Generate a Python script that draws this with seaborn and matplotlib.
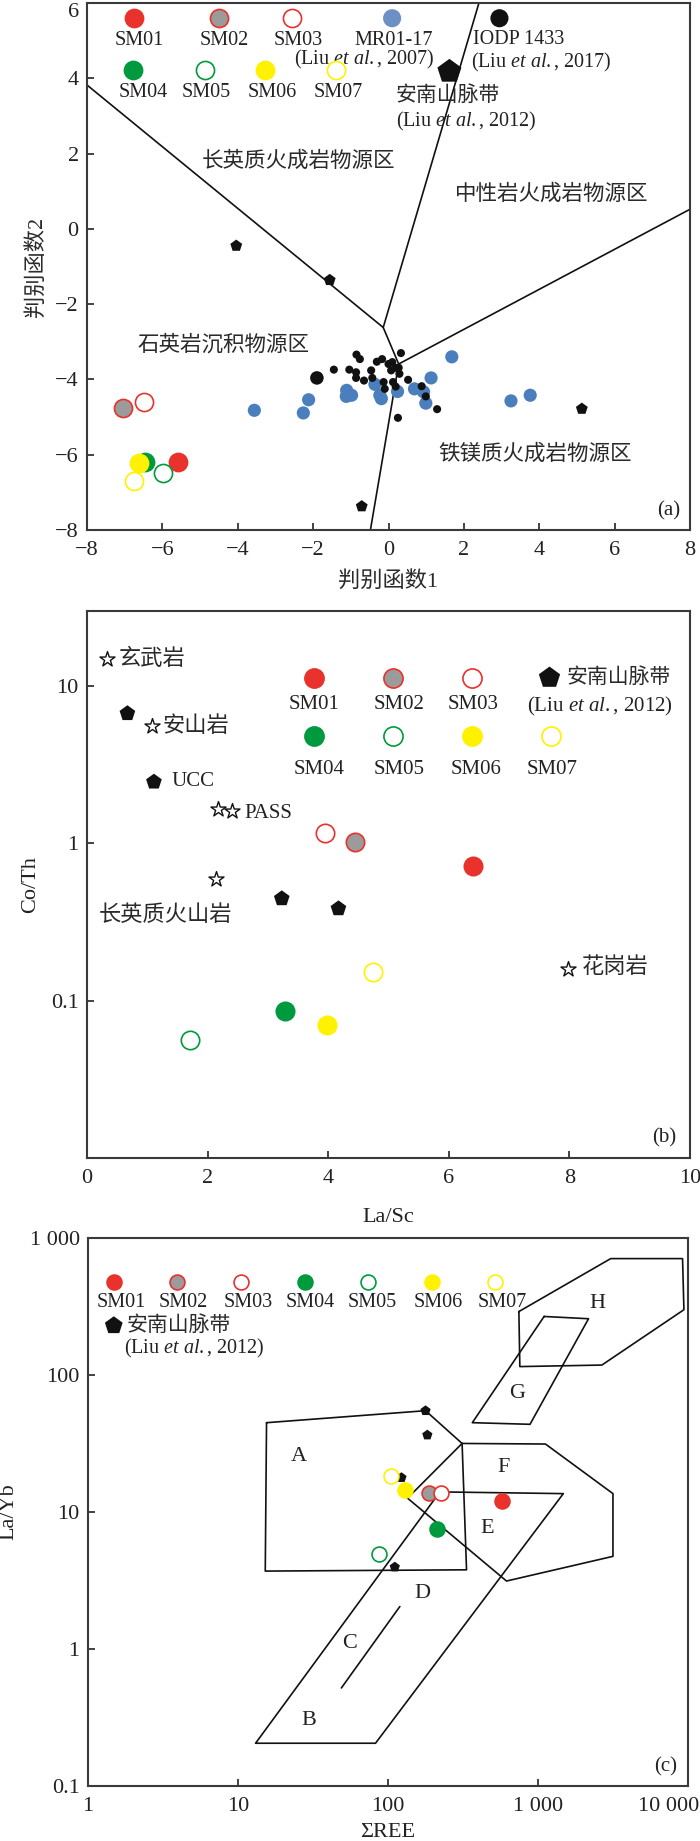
import pandas as pd
import seaborn as sns
import matplotlib.pyplot as plt
from matplotlib.transforms import ScaledTranslation

sns.set_style('ticks')
plt.rcParams['font.family'] = ['Liberation Serif', 'Noto Sans CJK SC', 'DejaVu Sans']
plt.rcParams['mathtext.fontset'] = 'custom'
plt.rcParams['mathtext.rm'] = 'Liberation Serif'
plt.rcParams['mathtext.it'] = 'Liberation Serif:italic'
plt.rcParams['axes.unicode_minus'] = True

# ---------------- data ----------------
samples = ['SM01', 'SM02', 'SM03', 'SM04', 'SM05', 'SM06', 'SM07']
face = ['#e8322b', '#9b9b9b', 'white', '#009a3e', 'white', '#fff200', 'white']
edge = ['#e8322b', '#e8322b', '#e8322b', '#009a3e', '#009a3e', '#fff200', '#fff200']

# (a) discriminant functions
a_df1 = [-5.58, -7.04, -6.50, -6.45, -5.99, -6.63, -6.76]
a_df2 = [-6.19, -4.75, -4.59, -6.18, -6.48, -6.21, -6.69]
mr_df1 = [-3.56, -2.26, -2.12, -1.11, -1.12, -0.98, -0.36, -0.23, -0.19,
          0.24, 0.69, 0.93, 0.99, 1.13, 1.68, 3.25, 3.76]
mr_df2 = [-4.82, -4.89, -4.54, -4.29, -4.45, -4.42, -4.13, -4.42, -4.51,
          -4.32, -4.25, -4.33, -4.63, -3.96, -3.40, -4.57, -4.42]
iodp_df1 = [-0.85, -0.76, -1.45, -1.04, -0.86, -0.86, -0.65, -0.46, -0.43, -0.31,
            -0.17, 0.00, 0.10, 0.07, 0.19, 0.27, 0.29, 0.33, -0.13, -0.10, 0.12,
            0.19, 0.52, 0.88, 0.99, 1.29, 0.25]
iodp_df2 = [-3.34, -3.46, -3.74, -3.74, -3.81, -3.96, -4.03, -3.76, -3.96, -3.53,
            -3.46, -3.59, -3.54, -3.76, -3.69, -3.69, -3.85, -3.30, -4.07, -4.25, -4.07,
            -4.19, -4.01, -4.18, -4.45, -4.79, -5.02]
iodp_big = ([-1.90], [-3.96])
annan_df1 = [-4.04, -1.56, -0.71, 5.13]
annan_df2 = [-0.45, -1.36, -7.37, -4.78]
# field boundaries (a)
bnd_a = [
    ([-8.0, -0.14], [3.82, -2.62]),
    ([-0.14, 2.40], [-2.62, 6.0]),
    ([-0.14, 0.27, -0.48], [-2.62, -3.59, -8.0]),
    ([0.27, 8.0], [-3.59, 0.52]),
]

# (b) La/Sc vs Co/Th
b_lasc = [6.40, 4.45, 3.95, 3.28, 1.70, 3.98, 4.74]
b_coth = [0.72, 1.02, 1.16, 0.086, 0.056, 0.070, 0.152]
annan_lasc = [0.67, 3.23, 4.17]
annan_coth = [6.7, 0.446, 0.385]
ucc_lasc, ucc_coth = [1.11], [2.46]
ref_names = ['玄武岩', '安山岩', '长英质火山岩', 'PASS', 'PASS', '花岗岩']
ref_lasc = [0.33, 1.07, 2.14, 2.18, 2.40, 7.97]
ref_coth = [14.8, 5.56, 0.596, 1.65, 1.61, 0.16]

# (c) sum REE vs La/Yb
c_ree = [575, 187, 226, 211, 87, 130, 105]
c_layb = [12.0, 13.8, 13.8, 7.55, 4.96, 14.4, 18.2]
annan_ree = [178, 183, 123, 111]
annan_layb = [54.8, 36.4, 17.8, 3.96]
fields_c = {
    'A': ([15.5, 178, 312, 334, 15.2, 15.5], [44.8, 54.8, 31.6, 3.78, 3.70, 44.8]),
    'F': ([312, 1122, 3162, 3162, 617, 135, 312], [31.6, 31.3, 13.6, 4.74, 3.13, 12.6, 31.6]),
    'DB': ([222, 1476, 82.6, 13.1, 222], [14.0, 13.6, 0.205, 0.205, 14.0]),
    'C': ([48.9, 120], [0.519, 2.04]),
    'G': ([1099, 2173, 885, 365, 1099], [267, 257, 43.6, 44.8, 267]),
    'H': ([746, 3055, 9204, 9397, 2667, 757, 746], [290, 706, 706, 299, 118, 115, 290]),
}
field_labels = ['A', 'F', 'G', 'H', 'E', 'D', 'C', 'B']
field_label_ree = [25.6, 588, 731, 2489, 460, 169, 55.7, 29.7]
field_label_layb = [25.5, 21.1, 73.5, 334, 7.55, 2.52, 1.09, 0.30]

# ---------------- figure ----------------
fig = plt.figure(figsize=(7, 18.41), dpi=100)
ax_a = fig.add_axes([0.1243, 0.7121, 0.8614, 0.2863])
ax_b = fig.add_axes([0.1243, 0.3710, 0.8614, 0.2971])
ax_c = fig.add_axes([0.1257, 0.0299, 0.8571, 0.2977])

TXT = '#222222'
CJK = dict(color='#2a2a2a', fontweight='light')
liu = lambda yr: r'(Liu $\mathit{et\ al.}$, %s)' % yr


def style(ax):
    for sp in ax.spines.values():
        sp.set_linewidth(1.5)
        sp.set_color('#3a3a3a')
    ax.tick_params(direction='in', length=5, width=1.2, labelsize=16,
                   colors=TXT, top=False, right=False)
    ax.tick_params(axis='x', pad=8)
    ax.tick_params(axis='y', pad=6)


def key(ax, x, y, marker, fc, ec, s, lw=1.2):
    ax.scatter([x], [y], transform=ax.transAxes, marker=marker, s=s,
               facecolor=fc, edgecolor=ec, linewidth=lw, zorder=6, clip_on=False)


def samples_on(ax, xs, ys, s):
    for i in range(len(samples)):
        sns.scatterplot(x=[xs[i]], y=[ys[i]], s=s, color=face[i], edgecolor=edge[i],
                        linewidth=1.2, ax=ax, zorder=5, legend=False)


# ---- (a) ----
ax = ax_a
for xs, ys in bnd_a:
    ax.plot(xs, ys, color='#111111', lw=1.2, zorder=2)
sns.scatterplot(x=mr_df1, y=mr_df2, s=90, color='#4a7ebd', edgecolor='none', ax=ax, zorder=3)
sns.scatterplot(x=iodp_df1, y=iodp_df2, s=34, color='#111111', edgecolor='none', ax=ax, zorder=4)
sns.scatterplot(x=iodp_big[0], y=iodp_big[1], s=95, color='#111111', edgecolor='none', ax=ax, zorder=4)
sns.scatterplot(x=annan_df1, y=annan_df2, s=80, marker='p', color='#111111', edgecolor='none', ax=ax, zorder=4)
samples_on(ax, a_df1, a_df2, 170)
ax.set_xlim(-8, 8)
ax.set_ylim(-8, 6)
ax.set_xticks(range(-8, 9, 2))
ax.set_yticks(range(-8, 7, 2))
style(ax)
# keep the top "6" inside the picture
ax.get_yticklabels()[-1].set_va('top')
ax.set_xlabel('判别函数1', fontsize=16, labelpad=8, **CJK)
ax.set_ylabel('判别函数2', fontsize=16, labelpad=6, **CJK)

key_a = [(0.0775, 0.971, 0.086, 0.929), (0.219, 0.971, 0.227, 0.929), (0.340, 0.971, 0.350, 0.929),
         (0.077, 0.873, 0.094, 0.831), (0.196, 0.873, 0.198, 0.831), (0.296, 0.873, 0.308, 0.831),
         (0.4125, 0.873, 0.417, 0.831)]
for i, (mx, my, lx, ly) in enumerate(key_a):
    key(ax, mx, my, 'o', face[i], edge[i], 170)
    ax.text(lx, ly, samples[i], transform=ax.transAxes, ha='center', va='center', fontsize=14.5, color=TXT)
key(ax, 0.506, 0.971, 'o', '#6c8fc4', 'none', 170)
ax.text(0.509, 0.929, 'MR01-17', transform=ax.transAxes, ha='center', va='center', fontsize=14.5, color=TXT)
ax.text(0.460, 0.893, liu(2007), transform=ax.transAxes, ha='center', va='center', fontsize=14.5, color=TXT)
key(ax, 0.684, 0.971, 'o', '#111111', 'none', 170)
ax.text(0.716, 0.931, 'IODP 1433', transform=ax.transAxes, ha='center', va='center', fontsize=14.5, color=TXT)
ax.text(0.754, 0.887, liu(2017), transform=ax.transAxes, ha='center', va='center', fontsize=14.5, color=TXT)
key(ax, 0.601, 0.870, 'p', '#111111', 'none', 330)
ax.text(0.599, 0.823, '安南山脉带', transform=ax.transAxes, ha='center', va='center', fontsize=15, **CJK)
ax.text(0.629, 0.776, liu(2012), transform=ax.transAxes, ha='center', va='center', fontsize=14.5, color=TXT)

ax.text(-2.4, 1.8, '长英质火成岩物源区', ha='center', va='center', fontsize=15.5, **CJK)
ax.text(4.32, 0.92, '中性岩火成岩物源区', ha='center', va='center', fontsize=15.5, **CJK)
ax.text(-4.37, -3.08, '石英岩沉积物源区', ha='center', va='center', fontsize=15.5, **CJK)
ax.text(3.9, -5.98, '铁镁质火成岩物源区', ha='center', va='center', fontsize=15.5, **CJK)
ax.text(0.964, 0.036, '(a)', transform=ax.transAxes, ha='center', va='center', fontsize=15, color=TXT)

# ---- (b) ----
ax = ax_b
ax.set_yscale('log')
sns.scatterplot(x=ref_lasc, y=ref_coth, s=130, marker='*', color='white', edgecolor='#111111',
                linewidth=1.0, ax=ax, zorder=4)
sns.scatterplot(x=annan_lasc + ucc_lasc, y=annan_coth + ucc_coth, s=140, marker='p',
                color='#111111', edgecolor='none', ax=ax, zorder=4)
samples_on(ax, b_lasc, b_coth, 175)
ax.set_xlim(0, 10)
ax.set_ylim(0.01, 30)
ax.set_xticks(range(0, 11, 2))
ax.set_yticks([0.1, 1, 10])
ax.set_yticklabels(['0.1', '1', '10'])
ax.yaxis.set_minor_locator(plt.NullLocator())
style(ax)
ax.set_xlabel('La/Sc', fontsize=16, color=TXT, labelpad=14)
ax.set_ylabel('Co/Th', fontsize=16, color=TXT, labelpad=8)

ax.text(0.52, 14.8, '玄武岩', ha='left', va='center', fontsize=16, **CJK)
ax.text(1.26, 5.56, '安山岩', ha='left', va='center', fontsize=16, **CJK)
ax.text(1.40, 2.46, 'UCC', ha='left', va='center', fontsize=15, color=TXT)
ax.text(2.61, 1.55, 'PASS', ha='left', va='center', fontsize=15, color=TXT)
ax.text(0.20, 0.347, '长英质火山岩', ha='left', va='center', fontsize=16, **CJK)
ax.text(8.20, 0.162, '花岗岩', ha='left', va='center', fontsize=16, **CJK)

key_b = [(0.376, 0.878, 0.376, 0.829), (0.508, 0.878, 0.518, 0.829), (0.638, 0.878, 0.640, 0.829),
         (0.376, 0.771, 0.385, 0.710), (0.507, 0.771, 0.518, 0.710), (0.638, 0.771, 0.646, 0.710),
         (0.769, 0.771, 0.771, 0.710)]
for i, (mx, my, lx, ly) in enumerate(key_b):
    key(ax, mx, my, 'o', face[i], edge[i], 190)
    ax.text(lx, ly, samples[i], transform=ax.transAxes, ha='center', va='center', fontsize=15, color=TXT)
key(ax, 0.767, 0.878, 'p', '#111111', 'none', 260)
ax.text(0.795, 0.878, '安南山脉带', transform=ax.transAxes, ha='left', va='center', fontsize=15, **CJK)
ax.text(0.850, 0.826, liu(2012), transform=ax.transAxes, ha='center', va='center', fontsize=15, color=TXT)
ax.text(0.958, 0.036, '(b)', transform=ax.transAxes, ha='center', va='center', fontsize=15, color=TXT)

# ---- (c) ----
ax = ax_c
ax.set_xscale('log')
ax.set_yscale('log')
for name, (xs, ys) in fields_c.items():
    ax.plot(xs, ys, color='#111111', lw=1.2, zorder=2)
sns.scatterplot(x=annan_ree, y=annan_layb, s=60, marker='p', color='#111111', edgecolor='none',
                ax=ax, zorder=4)
samples_on(ax, c_ree, c_layb, 115)
for lab, xv, yv in zip(field_labels, field_label_ree, field_label_layb):
    ax.text(xv, yv, lab, ha='center', va='center', fontsize=16, color=TXT)
ax.set_xlim(1, 10000)
ax.set_ylim(0.1, 1000)
ax.set_xticks([1, 10, 100, 1000, 10000])
ax.set_xticklabels(['1', '10', '100', '1 000', '10 000'])
ax.set_yticks([0.1, 1, 10, 100, 1000])
ax.set_yticklabels(['0.1', '1', '10', '100', '1 000'])
ax.xaxis.set_minor_locator(plt.NullLocator())
ax.yaxis.set_minor_locator(plt.NullLocator())
style(ax)
# last x label sits against the right edge, as in the source figure
last = ax.get_xticklabels()[-1]
last.set_ha('right')
last.set_transform(last.get_transform() + ScaledTranslation(0.11, 0, fig.dpi_scale_trans))
ax.set_xlabel('ΣREE', fontsize=16, color=TXT, labelpad=5)
ax.set_ylabel('La/Yb', fontsize=16, color=TXT, labelpad=8)

key_c = [(0.043, 0.0555), (0.149, 0.159), (0.255, 0.267), (0.361, 0.370),
         (0.467, 0.474), (0.573, 0.583), (0.679, 0.690)]
for i, (mx, lx) in enumerate(key_c):
    key(ax, mx, 0.9195, 'o', face[i], edge[i], 115)
    ax.text(lx, 0.882, samples[i], transform=ax.transAxes, ha='center', va='center', fontsize=14.5, color=TXT)
key(ax, 0.043, 0.840, 'p', '#111111', 'none', 180)
ax.text(0.065, 0.840, '安南山脉带', transform=ax.transAxes, ha='left', va='center', fontsize=15, **CJK)
ax.text(0.060, 0.799, liu(2012), transform=ax.transAxes, ha='left', va='center', fontsize=14.5, color=TXT)
ax.text(0.9625, 0.034, '(c)', transform=ax.transAxes, ha='center', va='center', fontsize=15, color=TXT)

fig.savefig('out.png', dpi=100)
